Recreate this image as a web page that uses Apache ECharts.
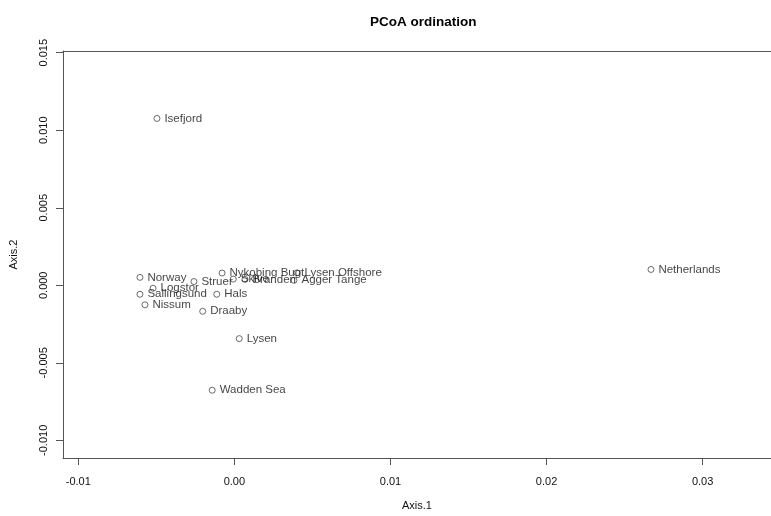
<!DOCTYPE html>
<html>
<head>
<meta charset="utf-8">
<script src="https://cdn.jsdelivr.net/npm/echarts@6/dist/echarts.min.js"></script>
<style>html,body{margin:0;padding:0;background:#fff;}#chart{width:771px;height:516px;}</style>
</head>
<body>
<div id="chart"></div>
<script>
const siteNames = ["Isefjord","Netherlands","Norway","Struer","Nykobing Bugt","Skive","Branden","Agger Tange","Lysen Offshore","Logstor","Sallingsund","Nissum","Hals","Draaby","Lysen","Wadden Sea"];
const axis1 = [-0.00496, 0.02669, -0.00605, -0.00259, -0.00079, -0.00007, 0.00068, 0.00382, 0.00401, -0.00521, -0.00605, -0.00573, -0.00113, -0.00203, 0.00031, -0.00142];
const axis2 = [0.01076, 0.00102, 0.00051, 0.00024, 0.00079, 0.00040, 0.00038, 0.00032, 0.00080, -0.00019, -0.00058, -0.00126, -0.00058, -0.00168, -0.00344, -0.00677];
const xTicks = [-0.01, 0, 0.01, 0.02, 0.03];
const yTicks = [-0.01, -0.005, 0, 0.005, 0.01, 0.015];

const font = "Liberation Sans, Arial, Helvetica, sans-serif";
const points = siteNames.map((n, i) => ({ name: n, value: [axis1[i], axis2[i]] }));
const xMin = -0.01098, xMax = 0.03438;

const chart = echarts.init(document.getElementById('chart'), null, { renderer: 'canvas' });
chart.setOption({
  animation: false,
  backgroundColor: '#fff',
  title: {
    text: 'PCoA ordination',
    left: 365, top: 10,
    textStyle: { fontFamily: font, fontSize: 13.5, fontWeight: 'bold', color: '#000' }
  },
  grid: { left: 63, right: 0, top: 51, bottom: 53, show: false, containLabel: false },
  xAxis: [{
    type: 'value', min: xMin, max: xMax,
    name: 'Axis.1', nameLocation: 'middle', nameGap: 42,
    nameTextStyle: { fontFamily: font, fontSize: 11, color: '#111' },
    axisLine: { show: true, onZero: false, lineStyle: { color: '#555', width: 1 } },
    axisTick: { show: true, length: 7, inside: false, customValues: xTicks, lineStyle: { color: '#555' } },
    axisLabel: { customValues: xTicks, margin: 18, fontFamily: font, fontSize: 11, color: '#111', formatter: v => v.toFixed(2) },
    splitLine: { show: false }
  }, {
    type: 'value', position: 'top', min: xMin, max: xMax,
    axisLine: { show: true, onZero: false, lineStyle: { color: '#555', width: 1 } },
    axisTick: { show: false }, axisLabel: { show: false }, splitLine: { show: false }
  }],
  yAxis: {
    type: 'value', min: -0.01114, max: 0.01511,
    name: 'Axis.2', nameLocation: 'middle', nameGap: 44,
    nameTextStyle: { fontFamily: font, fontSize: 11, color: '#111' },
    axisLine: { show: true, onZero: false, lineStyle: { color: '#555', width: 1 } },
    axisTick: { show: true, length: 7, inside: false, customValues: yTicks, lineStyle: { color: '#555' } },
    axisLabel: { customValues: yTicks, rotate: 90, margin: 14, fontFamily: font, fontSize: 11, color: '#111', formatter: v => v.toFixed(3) },
    splitLine: { show: false }
  },
  series: [{
    type: 'scatter',
    xAxisIndex: 0,
    data: points,
    symbol: 'circle',
    symbolSize: 6,
    itemStyle: { color: '#fff', borderColor: '#333', borderWidth: 0.9 },
    label: {
      show: true, position: 'right', distance: 4,
      formatter: p => p.name,
      fontFamily: font, fontSize: 11.5, color: '#111'
    },
    emphasis: { disabled: true }
  }]
});
</script>
</body>
</html>
